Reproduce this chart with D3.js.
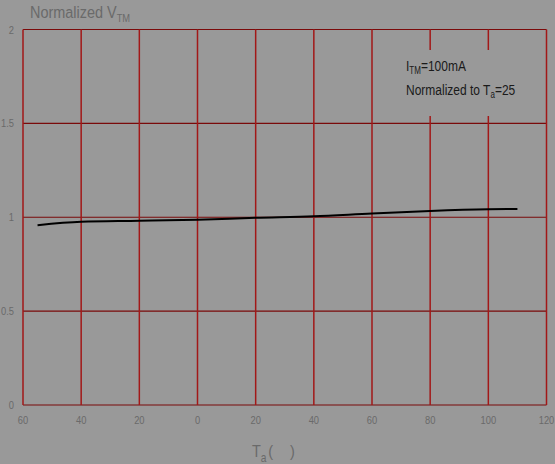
<!DOCTYPE html>
<html>
<head>
<meta charset="utf-8">
<script src="https://cdn.jsdelivr.net/npm/d3@7"></script>
<style>
  body { margin: 0; background: #999999; }
  svg { display: block; }
  text { font-family: "Liberation Sans", Arial, sans-serif; }
</style>
</head>
<body>
<div id="chart"></div>
<script>
// Data
var temps   = [-55, -40, -20, 0, 20, 40, 60, 80, 100, 110];
var vtm     = [0.958, 0.976, 0.981, 0.987, 0.997, 1.005, 1.02, 1.033, 1.042, 1.044];
var xTicks  = [-60, -40, -20, 0, 20, 40, 60, 80, 100, 120];
var xLabels = ["60", "40", "20", "0", "20", "40", "60", "80", "100", "120"];
var yTicks  = [0, 0.5, 1, 1.5, 2];
var yLabels = ["0", "0.5", "1", "1.5", "2"];

var W = 555, H = 464;
var margin = {top: 29.5, right: 8.5, bottom: 59, left: 23};
var width = W - margin.left - margin.right,
    height = H - margin.top - margin.bottom;

// narrow-looking text: squeeze horizontally
function narrowText(parent, px, py, size, sx, anchor, fill) {
    return parent.append("text")
        .attr("transform", "translate(" + px + "," + py + ") scale(" + sx + ",1)")
        .attr("text-anchor", anchor || "start")
        .attr("font-size", size)
        .attr("fill", fill);
}

var svg = d3.select("#chart").append("svg")
    .attr("width", W)
    .attr("height", H);

svg.append("rect").attr("width", W).attr("height", H).attr("fill", "#999999");

var g = svg.append("g")
    .attr("transform", "translate(" + margin.left + "," + margin.top + ")");

var x = d3.scaleLinear().domain([-60, 120]).range([0, width]);
var y = d3.scaleLinear().domain([0, 2]).range([height, 0]);

// horizontal grid lines
g.selectAll(".hgrid").data(yTicks).enter().append("line")
    .attr("x1", 0).attr("x2", width)
    .attr("y1", d => y(d)).attr("y2", d => y(d))
    .attr("stroke", "#7a0a0a").attr("stroke-width", 1.2);

// vertical grid lines
g.selectAll(".vgrid").data(xTicks).enter().append("line")
    .attr("x1", d => x(d)).attr("x2", d => x(d))
    .attr("y1", 0).attr("y2", height)
    .attr("stroke", "#a21818").attr("stroke-width", 1.5);

// y tick labels
yTicks.forEach(function(d, i) {
    narrowText(g, -9, y(d) + 4, 11, 0.85, "end", "#6a6a6a").text(yLabels[i]);
});

// x tick labels
xTicks.forEach(function(d, i) {
    narrowText(g, x(d), height + 19, 11, 0.85, "middle", "#6a6a6a").text(xLabels[i]);
});

// curve
var line = d3.line()
    .x(function(d) { return x(d[0]); })
    .y(function(d) { return y(d[1]); })
    .curve(d3.curveMonotoneX);

g.append("path")
    .datum(d3.zip(temps, vtm))
    .attr("fill", "none")
    .attr("stroke", "#000")
    .attr("stroke-width", 2)
    .attr("d", line);

// y axis title
var yt = narrowText(svg, 30, 18, 17, 0.85, "start", "#6a6a6a");
yt.append("tspan").text("Normalized V");
yt.append("tspan").attr("font-size", 11).attr("dy", 4).text("TM");

// x axis title
var xt = narrowText(svg, 252, 457, 17, 0.85, "start", "#6a6a6a");
xt.append("tspan").text("T");
xt.append("tspan").attr("font-size", 12).attr("dy", 5).text("a");
xt.append("tspan").attr("dy", -5).attr("dx", 2).text("(");
xt.append("tspan").attr("dx", 20).text(")");

// annotation box hides the grid behind it
svg.append("rect")
    .attr("x", 396).attr("y", 50)
    .attr("width", 142).attr("height", 66)
    .attr("fill", "#999999");

var a1 = narrowText(svg, 406, 71, 15, 0.8, "start", "#1a1a1a");
a1.append("tspan").text("I");
a1.append("tspan").attr("font-size", 10).attr("dy", 3).text("TM");
a1.append("tspan").attr("dy", -3).text("=100mA");

var a2 = narrowText(svg, 406, 95, 15, 0.8, "start", "#1a1a1a");
a2.append("tspan").text("Normalized to T");
a2.append("tspan").attr("font-size", 10).attr("dy", 3).text("a");
a2.append("tspan").attr("dy", -3).text("=25");
</script>
</body>
</html>
